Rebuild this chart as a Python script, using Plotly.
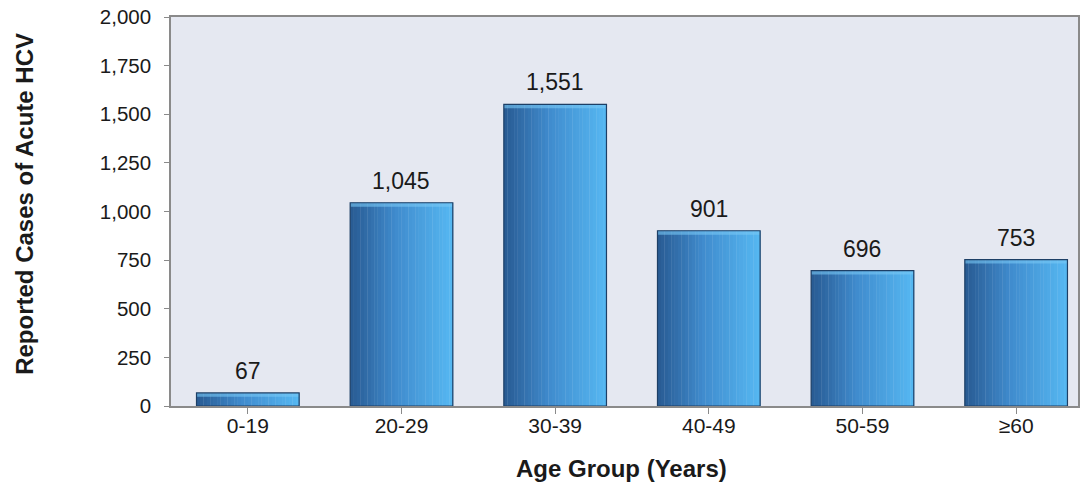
import plotly.graph_objects as go

categories = ["0-19", "20-29", "30-39", "40-49", "50-59", "≥60"]
cases = [67, 1045, 1551, 901, 696, 753]
y_ticks = [0, 250, 500, 750, 1000, 1250, 1500, 1750, 2000]

FONT = "Liberation Sans, Arial, sans-serif"
TXT = "#1a1a1a"
N_SLICES = 30
BAR_W = 0.668
x_idx = list(range(len(categories)))


def lerp_color(c1, c2, t):
    r = round(c1[0] + (c2[0] - c1[0]) * t)
    g = round(c1[1] + (c2[1] - c1[1]) * t)
    b = round(c1[2] + (c2[2] - c1[2]) * t)
    return f"rgb({r},{g},{b})"


left_c = (40, 90, 146)
mid_c = (64, 140, 206)
right_c = (86, 184, 242)

fig = go.Figure()
sw = BAR_W / N_SLICES
for i in range(N_SLICES):
    t = (i + 0.5) / N_SLICES
    if t < 0.45:
        col = lerp_color(left_c, mid_c, t / 0.45)
    else:
        col = lerp_color(mid_c, right_c, (t - 0.45) / 0.55)
    fig.add_trace(go.Bar(
        x=x_idx, y=cases, width=sw * 1.1, offset=-BAR_W / 2 + i * sw,
        marker=dict(color=col, line=dict(width=0)),
        hoverinfo="skip", showlegend=False,
    ))

# top bevel highlight
bevel = 20
fig.add_trace(go.Bar(
    x=x_idx, y=[bevel] * len(cases), base=[v - bevel for v in cases], width=BAR_W,
    marker=dict(color="rgba(120,200,245,0.6)", line=dict(width=0)),
    hoverinfo="skip", showlegend=False,
))

# outline
fig.add_trace(go.Bar(
    x=x_idx, y=cases, width=BAR_W,
    marker=dict(color="rgba(0,0,0,0)", line=dict(color="#1d3f66", width=1.2)),
    hoverinfo="skip", showlegend=False,
))

# value labels
for xi, v in zip(x_idx, cases):
    fig.add_annotation(
        x=xi, y=v, text=f"{v:,}", showarrow=False,
        yanchor="bottom", yshift=7,
        font=dict(family=FONT, size=23, color=TXT),
    )

# axis titles
fig.add_annotation(
    xref="paper", yref="paper", x=(622 - 171) / 909, y=-47 / 389, yanchor="top",
    text="<b>Age Group (Years)</b>", showarrow=False,
    font=dict(family=FONT, size=24, color=TXT),
)
fig.add_annotation(
    xref="paper", yref="paper", x=(24 - 171) / 909, xanchor="center",
    y=0.5 + 8 / 389, yanchor="middle", textangle=-90,
    text="<b>Reported Cases of Acute HCV</b>", showarrow=False,
    font=dict(family=FONT, size=24, color=TXT),
)

fig.update_layout(
    width=1080, height=482,
    barmode="overlay",
    margin=dict(l=171, r=0, t=17, b=76),
    paper_bgcolor="white",
    plot_bgcolor="#e5e8f1",
    font=dict(family=FONT, size=16, color=TXT),
)
fig.update_xaxes(
    tickvals=x_idx, ticktext=categories,
    range=[-0.5, 5.5 - 15 / 154],
    showline=True, linecolor="#8a8a8a", linewidth=1.5, mirror=True,
    ticks="outside", tickson="boundaries", ticklen=6, tickcolor="#8a8a8a",
    tickfont=dict(family=FONT, size=21, color=TXT),
    ticklabelstandoff=-6,
    showgrid=False, zeroline=False,
)
fig.update_yaxes(
    range=[0, 2000], tickvals=y_ticks, tickformat=",",
    showline=True, linecolor="#8a8a8a", linewidth=1.5, mirror=True,
    ticks="outside", ticklen=5, tickcolor="#8a8a8a",
    tickfont=dict(family=FONT, size=20.5, color=TXT),
    ticklabelstandoff=9,
    showgrid=False, zeroline=False,
)

fig.write_html("out.html")
